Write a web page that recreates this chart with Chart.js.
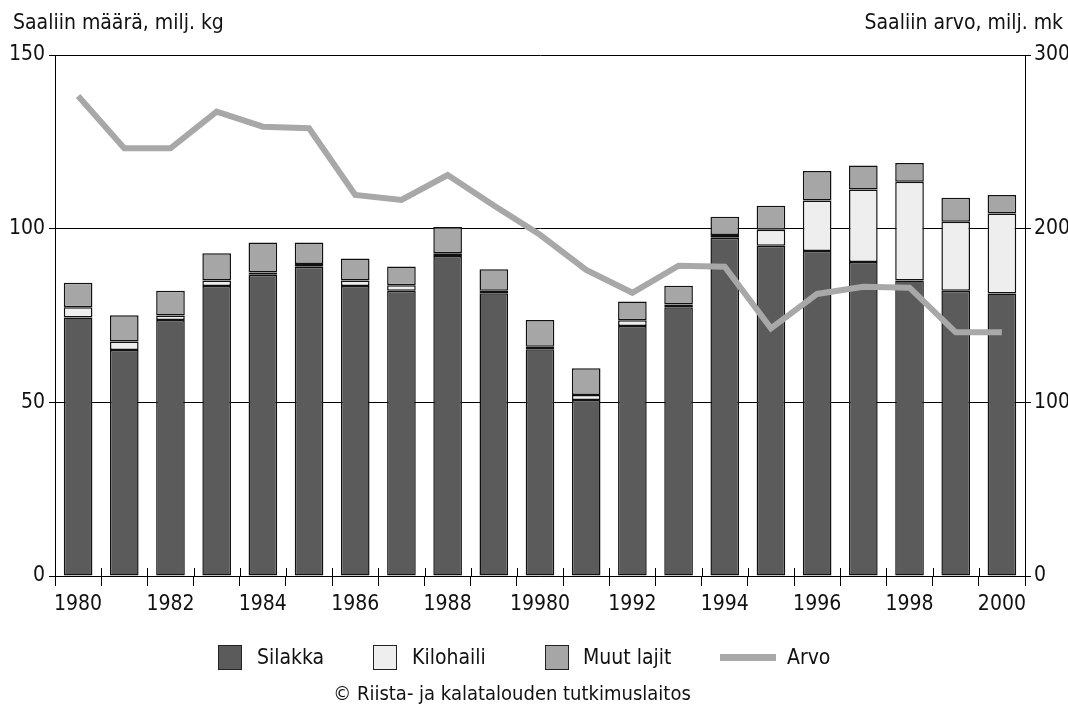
<!DOCTYPE html>
<html>
<head>
<meta charset="utf-8">
<script src="https://cdn.jsdelivr.net/npm/chart.js@4"></script>
<style>
    body { margin: 0; background: #fff; }
    #wrap { position: relative; width: 1068px; height: 707px; font-family: "Liberation Sans Narrow", "DejaVu Sans Condensed", sans-serif; color: #111; }
    #wrap canvas { position: absolute; left: 0; top: 0; }
    .txt { position: absolute; font-size: 21px; white-space: nowrap; line-height: 1; }
    .box { position: absolute; width: 24px; height: 25px; border: 1.5px solid #222; box-sizing: border-box; }
    .lline { position: absolute; width: 56px; height: 7px; background: #a8a8a8; }
</style>
</head>
<body>
<div id="wrap">
    <canvas id="chart" width="1068" height="707"></canvas>
    <div class="txt" style="left:13px;top:12px;">Saaliin määrä, milj. kg</div>
    <div class="txt" style="right:5px;top:12px;">Saaliin arvo, milj. mk</div>

    <div class="box" style="left:218px;top:645px;background:#5b5b5b;"></div>
    <div class="txt" style="left:257px;top:647px;">Silakka</div>
    <div class="box" style="left:373px;top:645px;background:#eeeeee;"></div>
    <div class="txt" style="left:412px;top:647px;">Kilohaili</div>
    <div class="box" style="left:545px;top:645px;background:#a6a6a6;"></div>
    <div class="txt" style="left:583px;top:647px;">Muut lajit</div>
    <div class="lline" style="left:720px;top:654px;"></div>
    <div class="txt" style="left:787px;top:647px;">Arvo</div>

    <div class="txt" style="left:0;width:1024px;text-align:center;top:683px;font-size:20px;">© Riista- ja kalatalouden tutkimuslaitos</div>
</div>
<script>
// vuodet ja näkyvät x-akselin tekstit (alkuperäisessä 1990 on kirjoitettu "19980")
const years = ['1980', '1981', '1982', '1983', '1984', '1985', '1986', '1987', '1988', '1989', '1990',
    '1991', '1992', '1993', '1994', '1995', '1996', '1997', '1998', '1999', '2000'];
const tickLabels = ['1980', '', '1982', '', '1984', '', '1986', '', '1988', '', '19980',
    '', '1992', '', '1994', '', '1996', '', '1998', '', '2000'];

// saalis, milj. kg
const silakka = [74.4, 65.1, 73.7, 83.5, 86.7, 89.0, 83.5, 82.1, 92.1, 81.4, 65.3,
    50.7, 72.0, 77.4, 97.4, 95.1, 93.6, 90.4, 85.1, 82.1, 81.3];
const kilohaili = [3.0, 2.4, 1.3, 1.6, 0.7, 0.8, 1.6, 1.6, 0.8, 0.7, 0.7,
    1.4, 1.6, 0.8, 0.8, 4.6, 14.5, 20.9, 28.4, 19.9, 23.1];
const muutLajit = [7.0, 7.6, 7.1, 7.8, 8.6, 6.2, 6.3, 5.4, 7.6, 6.2, 7.7,
    7.7, 5.4, 5.4, 5.2, 6.9, 8.5, 6.9, 5.4, 6.9, 5.3];

// saaliin arvo, milj. mk
const arvo = [276.4, 246.3, 246.3, 267.4, 258.7, 257.8, 219.4, 216.5, 230.9, 213.4, 196.5,
    176.2, 163.1, 178.7, 178.1, 142.6, 162.4, 166.6, 166.0, 140.3, 140.3];

const FONT = { family: '"Liberation Sans Narrow", "DejaVu Sans Condensed", sans-serif', size: 21 };

// pienet väliviivat x-akselin yläpuolelle
const upTicks = {
    id: 'upTicks',
    afterDraw(chart) {
        const xs = chart.scales.x;
        const ctx = chart.ctx;
        const w = (xs.right - xs.left) / years.length;
        ctx.save();
        ctx.strokeStyle = '#000';
        ctx.lineWidth = 1;
        ctx.beginPath();
        for (let i = 0; i <= years.length; i++) {
            const x = Math.round(xs.left + i * w) + 0.5;
            ctx.moveTo(x, xs.top - 8);
            ctx.lineTo(x, xs.top);
        }
        ctx.stroke();
        ctx.restore();
    }
};

const bar = (label, data, color) => ({
    type: 'bar', label, data,
    backgroundColor: color, borderColor: '#111', borderWidth: 1.5, borderSkipped: false,
    barPercentage: 0.62, categoryPercentage: 1, order: 1, yAxisID: 'y',
});

new Chart(document.getElementById('chart'), {
    data: {
        labels: years,
        datasets: [
            bar('Silakka', silakka, '#5b5b5b'),
            bar('Kilohaili', kilohaili, '#eeeeee'),
            bar('Muut lajit', muutLajit, '#a6a6a6'),
            {
                type: 'line', label: 'Arvo', data: arvo, yAxisID: 'y2', order: 0,
                borderColor: '#a8a8a8', borderWidth: 6, pointRadius: 0, tension: 0, fill: false,
            },
        ],
    },
    options: {
        responsive: false, animation: false,
        layout: { padding: { top: 55, left: 0, right: 0, bottom: 0 } },
        plugins: { legend: { display: false }, tooltip: { enabled: false } },
        scales: {
            x: {
                stacked: true,
                grid: { display: true, drawOnChartArea: false, offset: true, color: '#000', tickLength: 10 },
                border: { color: '#000', width: 1 },
                ticks: { autoSkip: false, maxRotation: 0, padding: 6, color: '#111', font: FONT,
                    callback: (v, i) => tickLabels[i] },
                afterFit: s => { s.height = 131; },
            },
            y: {
                stacked: true, position: 'left', min: 0, max: 150,
                grid: { color: '#000', tickLength: 6 },
                border: { color: '#000', width: 1 },
                ticks: { stepSize: 50, padding: 4, color: '#111', font: FONT },
                afterFit: s => { s.width = 55; },
            },
            y2: {
                position: 'right', min: 0, max: 300,
                grid: { drawOnChartArea: false, color: '#000', tickLength: 6 },
                border: { color: '#000', width: 1 },
                ticks: { stepSize: 100, padding: 3, color: '#111', font: FONT },
                afterFit: s => { s.width = 43; },
            },
        },
    },
    plugins: [upTicks],
});
</script>
</body>
</html>
